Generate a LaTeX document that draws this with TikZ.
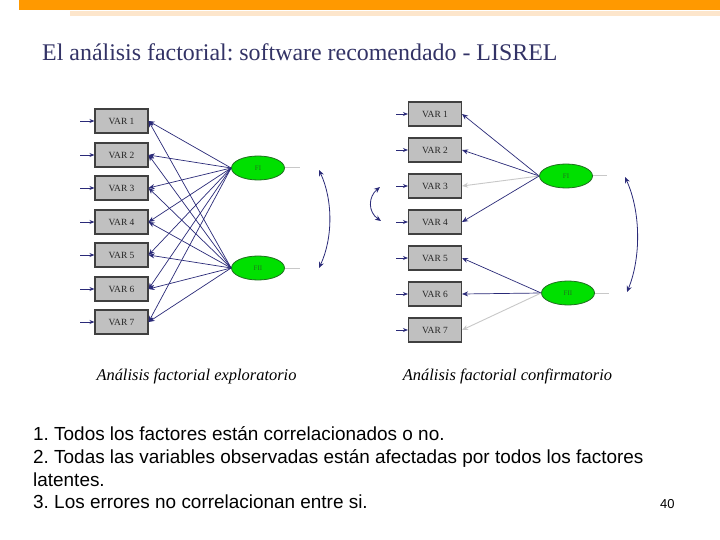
\documentclass[tikz,border=0pt]{standalone}
\usepackage{fontspec}
\setmainfont{Liberation Serif}
\newfontfamily\arialfont{Liberation Sans}
\usetikzlibrary{shapes.geometric,arrows.meta}
\frenchspacing
\definecolor{barorange}{HTML}{FF9900}
\definecolor{barpeach}{HTML}{FDE6CC}
\definecolor{titlenavy}{HTML}{333366}
\definecolor{arrnavy}{HTML}{2A2A78}
\definecolor{boxgray}{HTML}{C0C0C0}
\definecolor{boxedge}{HTML}{404040}
\definecolor{faintgray}{HTML}{C8C8C8}
\definecolor{factgreen}{HTML}{00E000}
\definecolor{factedge}{HTML}{207020}
\tikzset{
  varbox/.style={draw=boxedge, line width=1.1bp, fill=boxgray, minimum width=53bp, minimum height=24bp, inner sep=0pt, font=\fontsize{9.5}{10}\selectfont, text=black!85},
  factor/.style={ellipse, draw=factedge, line width=0.8bp, fill=factgreen, minimum width=53bp, minimum height=24bp, inner sep=0pt, font=\fontsize{7}{7}\selectfont, text=factedge},
  load/.style={draw=arrnavy, line width=0.7bp, -{Stealth[length=6bp,width=5bp]}},
  loadgray/.style={draw=faintgray, line width=0.9bp, -{Stealth[length=6bp,width=5bp]}},
  errarr/.style={draw=arrnavy, line width=0.8bp, -{Stealth[length=5bp,width=4bp]}},
  stub/.style={draw=faintgray, line width=1bp},
  corr/.style={draw=arrnavy, line width=0.8bp, {Stealth[length=6bp,width=5bp]}-{Stealth[length=6bp,width=5bp]}},
  caption/.style={font=\itshape\fontsize{16.5}{18}\selectfont, text=black},
  bodytext/.style={font=\arialfont\fontsize{19}{21}\selectfont, text=black, anchor=base west, inner sep=0pt}
}
\begin{document}
\begin{tikzpicture}[x=1bp,y=-1bp]
\useasboundingbox (0,0) rectangle (720,540);
\fill[white] (0,0) rectangle (720,540);
% header bars
\fill[barorange] (19,0) rectangle (720,10);
\fill[barpeach] (70,11) rectangle (720,16);
% title
\node[anchor=base west, inner sep=0pt, text=titlenavy, font=\fontsize{24}{26}\selectfont] (title) at (42,61) {El análisis factorial: software recomendado - LISREL};

% ===== Left diagram (exploratory) =====
\foreach \i/\y in {1/121,2/155,3/188,4/222,5/255,6/289,7/322}{
  \node[varbox] (L\i) at (121.5,\y) {VAR \i};
  \coordinate (Le\i) at (80,\y);
  \draw[errarr] (Le\i) -- (L\i.west);
}
\node[factor] (LF1) at (258,168) {FI};
\node[factor] (LF2) at (258,268) {FII};
\foreach \i in {1,...,7}{
  \draw[load] (LF1.west) -- (L\i.east);
  \draw[load] (LF2.west) -- (L\i.east);
}
\coordinate (Ls1) at (300,168);
\coordinate (Ls2) at (300,268);
\draw[stub] (LF1.east) -- (Ls1);
\draw[stub] (LF2.east) -- (Ls2);
\coordinate (Lc1) at (319,170);
\coordinate (Lc2) at (319,268);
\draw[corr] (Lc1) .. controls (333,200) and (333,238) .. (Lc2);

% ===== Right diagram (confirmatory) =====
\foreach \i/\y in {1/114,2/150,3/186,4/222,5/258,6/294,7/330}{
  \node[varbox] (R\i) at (435,\y) {VAR \i};
  \coordinate (Re\i) at (396,\y);
  \draw[errarr] (Re\i) -- (R\i.west);
}
\node[factor] (RF1) at (566,176) {FI};
\node[factor] (RF2) at (568,293) {FII};
\draw[load] (RF1.west) -- (R1.east);
\draw[load] (RF1.west) -- (R2.east);
\draw[loadgray] (RF1.west) -- (R3.east);
\draw[load] (RF1.west) -- (R4.east);
\draw[load] (RF2.west) -- (R5.east);
\draw[load] (RF2.west) -- (R6.east);
\draw[loadgray] (RF2.west) -- (R7.east);
\coordinate (Rs1) at (607,176);
\coordinate (Rs2) at (609,293);
\draw[stub] (RF1.east) -- (Rs1);
\draw[stub] (RF2.east) -- (Rs2);
\coordinate (Rc1) at (625,177);
\coordinate (Rc2) at (627,292);
\draw[corr] (Rc1) .. controls (641,212) and (641,258) .. (Rc2);
\coordinate (Rd1) at (380,187);
\coordinate (Rd2) at (381,221);
\draw[corr] (Rd1) .. controls (368,197) and (368,212) .. (Rd2);

% captions
\node[caption] (capL) at (196.5,376) {Análisis factorial exploratorio};
\node[caption] (capR) at (507.5,376) {Análisis factorial confirmatorio};

% body text
\node[bodytext] (t1) at (33,440) {1. Todos los factores están correlacionados o no.};
\node[bodytext] (t2) at (33,463) {2. Todas las variables observadas están afectadas por todos los factores};
\node[bodytext] (t3) at (33,486) {latentes.};
\node[bodytext] (t4) at (33,508) {3. Los errores no correlacionan entre si.};
\node[anchor=base west, inner sep=0pt, font=\arialfont\fontsize{13}{14}\selectfont] (pg) at (660,508) {40};
\end{tikzpicture}
\end{document}
